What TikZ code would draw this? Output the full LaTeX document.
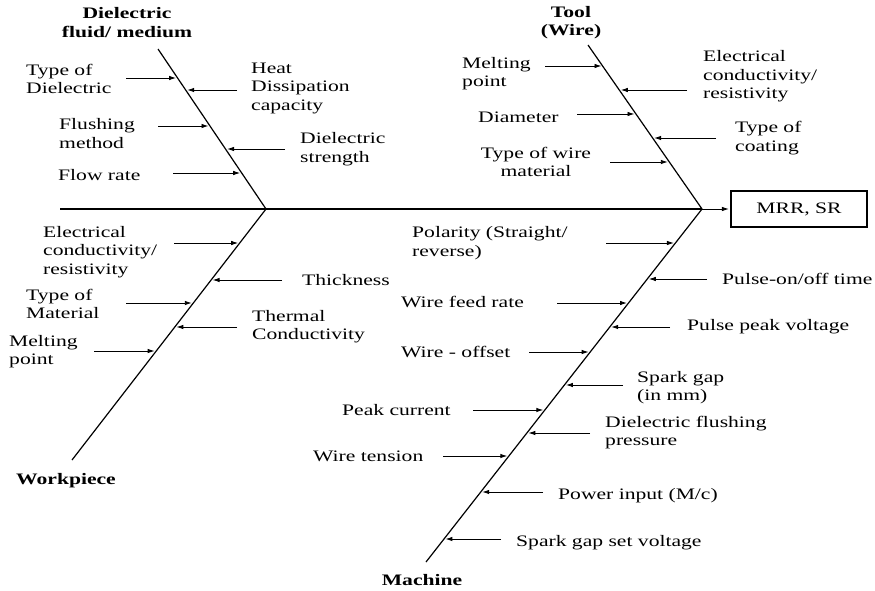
\documentclass[tikz,border=0pt]{standalone}
\usepackage{fontspec}
\setmainfont[FakeStretch=1.35]{Liberation Serif}
\usetikzlibrary{arrows.meta}
\tikzset{
  bone/.style={line width=1.2pt, line join=miter},
  cause/.style={line width=0.9pt, -{Latex[length=7pt,width=4.5pt]}, shorten >=1.5pt},
  lbl/.style={anchor=west, inner sep=0pt, align=left, font=\fontsize{16}{18.5}\selectfont},
  head/.style={inner sep=0pt, align=center, font=\fontsize{16}{18.5}\selectfont\bfseries},
  outbox/.style={draw, line width=1.1pt, minimum width=136pt, minimum height=36pt, inner sep=0pt, font=\fontsize{16}{18.5}\selectfont},
}
\begin{document}
\begin{tikzpicture}[x=1pt,y=-1pt]
\useasboundingbox (0,0) rectangle (875,591);
% spine and bones
\coordinate (S) at (60,209);
\coordinate (J1) at (266,209);
\coordinate (J2) at (702,209);
\coordinate (A) at (158,49);
\coordinate (W) at (72,460);
\coordinate (T) at (588,45);
\coordinate (M) at (426,562);
\draw[bone] (S) -- (J2);
\draw[bone] (A) -- (J1) -- (W);
\draw[bone] (T) -- (J2) -- (M);
\node[outbox] (out) at (799,209) {MRR, SR};
\draw[cause] (J2) -- (out.west);

% category heads
\node[head] (hd) at (127,22.5) {Dielectric\\fluid/ medium};
\node[head] (ht) at (571,22.5) {Tool\\(Wire)};
\node[head, anchor=west] (hw) at (16,481) {Workpiece};
\node[head] (hm) at (422,580) {Machine};

% Dielectric fluid / medium
\node[lbl] (d1) at (26,79) {Type of\\Dielectric};
\node[lbl] (d2) at (251,88) {Heat\\Dissipation\\capacity};
\node[lbl] (d3) at (59,133.5) {Flushing\\method};
\node[lbl] (d4) at (300,149) {Dielectric\\strength};
\node[lbl] (d5) at (58,175) {Flow rate};
\coordinate (d1s) at (126,78);  \coordinate (d1e) at (177.6,78);
\coordinate (d2s) at (237,90);  \coordinate (d2e) at (185.7,90);
\coordinate (d3s) at (158,126); \coordinate (d3e) at (210,126);
\coordinate (d4s) at (285,149); \coordinate (d4e) at (225.5,149);
\coordinate (d5s) at (173,173); \coordinate (d5e) at (241.7,173);
\foreach \i in {1,...,5} {\draw[cause] (d\i s) -- (d\i e);}

% Workpiece
\node[lbl] (w1) at (43,252) {Electrical\\conductivity/\\resistivity};
\node[lbl] (w2) at (302,280) {Thickness};
\node[lbl] (w3) at (26,304) {Type of\\Material};
\node[lbl] (w4) at (252,326.5) {Thermal\\Conductivity};
\node[lbl] (w5) at (9,351.5) {Melting\\point};
\coordinate (w1s) at (174,243); \coordinate (w1e) at (239.7,243);
\coordinate (w2s) at (282,280); \coordinate (w2e) at (211.1,280);
\coordinate (w3s) at (126,303); \coordinate (w3e) at (193.3,303);
\coordinate (w4s) at (237,327); \coordinate (w4e) at (174.8,327);
\coordinate (w5s) at (94,351);  \coordinate (w5e) at (156.2,351);
\foreach \i in {1,...,5} {\draw[cause] (w\i s) -- (w\i e);}

% Tool (Wire)
\node[lbl] (t1) at (462,73.5) {Melting\\point};
\node[lbl] (t2) at (703,76.5) {Electrical\\conductivity/\\resistivity};
\node[lbl] (t3) at (478,117) {Diameter};
\node[lbl] (t4) at (735,138) {Type of\\coating};
\node[lbl, anchor=center, align=center] (t5) at (536,162) {Type of wire\\material};
\coordinate (t1s) at (545,66);  \coordinate (t1e) at (603,66);
\coordinate (t2s) at (687,90);  \coordinate (t2e) at (619.3,90);
\coordinate (t3s) at (577,114); \coordinate (t3e) at (636,114);
\coordinate (t4s) at (716,138); \coordinate (t4e) at (652.6,138);
\coordinate (t5s) at (610,162); \coordinate (t5e) at (669.3,162);
\foreach \i in {1,...,5} {\draw[cause] (t\i s) -- (t\i e);}

% Machine
\node[lbl] (m1) at (412,243) {Polarity (Straight/\\reverse)};
\node[lbl] (m2) at (722,279) {Pulse-on/off time};
\node[lbl] (m3) at (401,302) {Wire feed rate};
\node[lbl] (m4) at (687,327) {Pulse peak voltage};
\node[lbl] (m5) at (401,352) {Wire - offset};
\node[lbl] (m6) at (637,387.5) {Spark gap\\(in mm)};
\node[lbl] (m7) at (342,410) {Peak current};
\node[lbl] (m8) at (605,432.5) {Dielectric flushing\\pressure};
\node[lbl] (m9) at (313,456) {Wire tension};
\node[lbl] (m10) at (558,496) {Power input (M/c)};
\node[lbl] (m11) at (516,543) {Spark gap set voltage};
\coordinate (m1s) at (606,243);  \coordinate (m1e) at (675.4,243);
\coordinate (m2s) at (707,279);  \coordinate (m2e) at (647.3,279);
\coordinate (m3s) at (557,303);  \coordinate (m3e) at (628.5,303);
\coordinate (m4s) at (670,327);  \coordinate (m4e) at (609.7,327);
\coordinate (m5s) at (529,352);  \coordinate (m5e) at (590.2,352);
\coordinate (m6s) at (623,385);  \coordinate (m6e) at (564.4,385);
\coordinate (m7s) at (473,410);  \coordinate (m7e) at (544.8,410);
\coordinate (m8s) at (590,433);  \coordinate (m8e) at (526.8,433);
\coordinate (m9s) at (443,456);  \coordinate (m9e) at (508.8,456);
\coordinate (m10s) at (543,492); \coordinate (m10e) at (480.7,492);
\coordinate (m11s) at (501,539); \coordinate (m11e) at (443.9,539);
\foreach \i in {1,...,11} {\draw[cause] (m\i s) -- (m\i e);}
\end{tikzpicture}
\end{document}
